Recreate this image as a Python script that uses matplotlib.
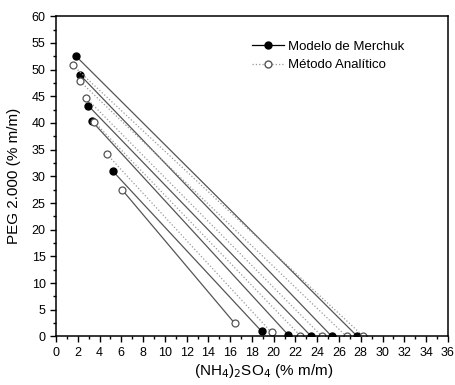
import matplotlib.pyplot as plt
from matplotlib.ticker import MultipleLocator
from matplotlib.lines import Line2D

plt.rcParams['font.family'] = ['Liberation Sans', 'DejaVu Sans']

# Modelo de Merchuk: tie lines (top phase -> bottom phase)
merchuk_top_x = [1.83, 2.2, 2.97, 3.3, 5.2]
merchuk_top_y = [52.5, 49.0, 43.2, 40.3, 31.0]
merchuk_bot_x = [27.7, 25.35, 23.4, 21.3, 18.9]
merchuk_bot_y = [0.0, 0.0, 0.13, 0.37, 0.94]

# Metodo Analitico
analit_top_x = [1.53, 2.2, 2.75, 3.5, 4.65, 6.06]
analit_top_y = [50.8, 47.8, 44.7, 40.2, 34.2, 27.5]
analit_bot_x = [28.2, 26.7, 24.4, 22.45, 19.8, 16.4]
analit_bot_y = [0.1, 0.0, 0.1, 0.13, 0.75, 2.5]

fig = plt.figure(figsize=(4.56, 3.85), dpi=100)
ax = fig.add_axes([0.123, 0.126, 0.859, 0.832])

analit_styles = [':'] * 5 + ['-']
for i in range(len(analit_top_x)):
    ax.plot([analit_top_x[i], analit_bot_x[i]], [analit_top_y[i], analit_bot_y[i]],
            linestyle=analit_styles[i], color='#999999' if analit_styles[i] == ':' else '#555555',
            lw=0.9, marker='o', ms=5, mfc='white', mec='#555555', mew=0.9, zorder=2)

for i in range(len(merchuk_top_x)):
    ax.plot([merchuk_top_x[i], merchuk_bot_x[i]], [merchuk_top_y[i], merchuk_bot_y[i]],
            '-', color='#555555', lw=0.9, marker='o', ms=5, mfc='black', mec='black', zorder=1)

ax.set_xlim(0, 36)
ax.set_ylim(0, 60)
ax.xaxis.set_major_locator(MultipleLocator(2))
ax.xaxis.set_minor_locator(MultipleLocator(1))
ax.yaxis.set_major_locator(MultipleLocator(5))
ax.yaxis.set_minor_locator(MultipleLocator(2.5))
ax.tick_params(which='both', direction='out', labelsize=9, width=1)
ax.tick_params(which='major', length=4)
ax.tick_params(which='minor', length=2.5)
for s in ax.spines.values():
    s.set_linewidth(1.1)

ax.set_xlabel('(NH$_4$)$_2$SO$_4$ (% m/m)', fontsize=11, labelpad=2)
ax.xaxis.label.set_x(0.53)
ax.set_ylabel('PEG 2.000 (% m/m)', fontsize=11, labelpad=8)

handles = [
    Line2D([], [], color='black', lw=0.9, marker='o', ms=5, mfc='black', mec='black'),
    Line2D([], [], color='#999999', lw=0.9, ls=':', marker='o', ms=5, mfc='white', mec='#555555'),
]
ax.legend(handles, ['Modelo de Merchuk', 'Método Analítico'], loc='upper left',
          bbox_to_anchor=(0.47, 0.96), frameon=False, fontsize=9.5,
          handlelength=2.4, handletextpad=0.3, labelspacing=0.45)

fig.savefig('out.png', dpi=100)
